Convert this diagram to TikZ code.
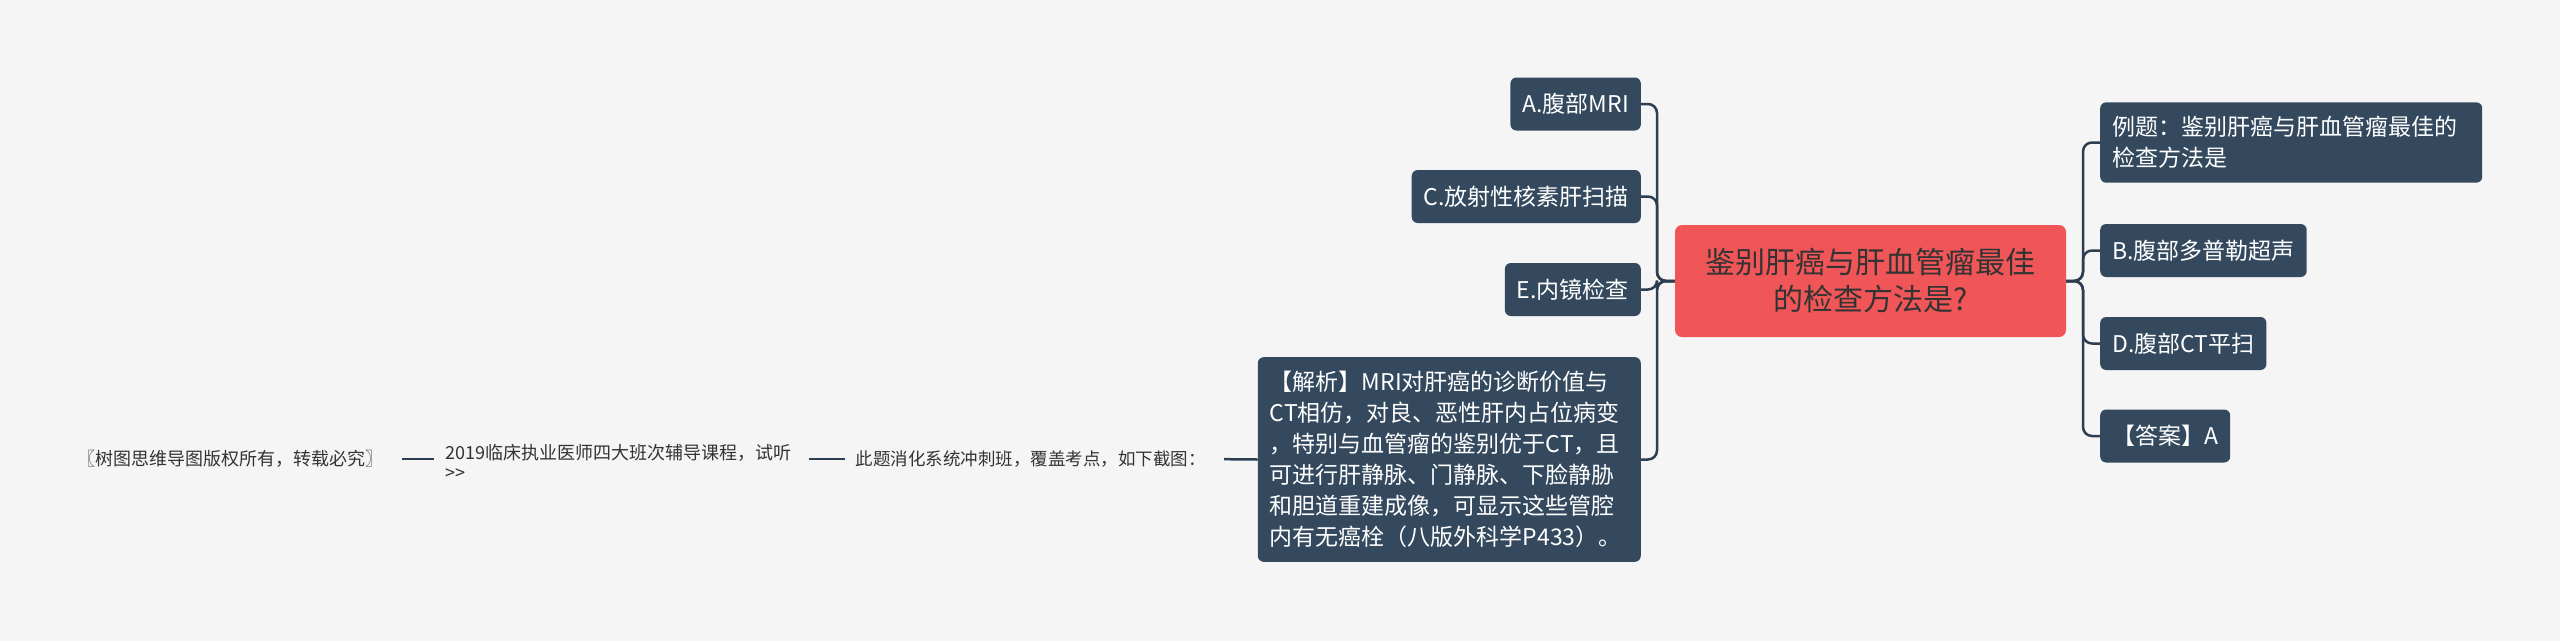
\documentclass[tikz,border=0pt]{standalone}
\usepackage{fontspec}
\setmainfont{Noto Sans CJK SC}
\usetikzlibrary{positioning}
\definecolor{bgc}{HTML}{F5F5F5}
\definecolor{boxc}{HTML}{34495E}
\definecolor{linec}{HTML}{2C3E50}
\definecolor{rootc}{HTML}{F05557}
\definecolor{txtc}{HTML}{333333}
\tikzset{
  topic/.style={fill=rootc, rounded corners=7pt, text=txtc, font=\fontsize{30}{37}\selectfont,
    minimum width=391pt, minimum height=112pt, align=center},
  sub/.style={fill=boxc, rounded corners=6pt, text=white, font=\fontsize{23}{31}\selectfont,
    inner xsep=12pt, inner ysep=14pt, minimum height=53pt, align=left},
  plain/.style={text=txtc, font=\fontsize{18}{20}\selectfont, inner xsep=0pt, align=left},
  link/.style={draw=linec, line width=2.5pt, rounded corners=9pt},
  chain/.style={draw=linec, line width=2.5pt, shorten <=18pt, shorten >=11pt},
}
\begin{document}
\begin{tikzpicture}[x=1pt,y=-1pt]
\fill[bgc] (0,0) rectangle (2560,641);
\useasboundingbox (0,0) rectangle (2560,641);

% centre topic
\node[topic] (root) at (1870.5,281) {鉴别肝癌与肝血管瘤最佳\\的检查方法是?};

% right branch
\node[sub, anchor=west, text width=358pt] (ex) at (2100,142.5) {例题：鉴别肝癌与肝血管瘤最佳的\\检查方法是};
\node[sub, anchor=west] (optb) at (2100,250.5) {B.腹部多普勒超声};
\node[sub, anchor=west] (optd) at (2100,343.5) {D.腹部CT平扫};
\node[sub, anchor=west] (ans) at (2100,436) {【答案】A};

% left branch
\node[sub, anchor=east] (opta) at (1641,104) {A.腹部MRI};
\node[sub, anchor=east] (optc) at (1641,196.5) {C.放射性核素肝扫描};
\node[sub, anchor=east] (opte) at (1641,289.5) {E.内镜检查};
\node[sub, anchor=east, text width=359pt] (jx) at (1641,459.5) {【解析】MRI对肝癌的诊断价值与\\CT相仿，对良、恶性肝内占位病变\\，特别与血管瘤的鉴别优于CT，且\\可进行肝静脉、门静脉、下脸静胁\\和胆道重建成像，可显示这些管腔\\内有无癌栓（八版外科学P433）。};

% text chain
\node[plain, anchor=east, font=\fontsize{17.5}{20}\selectfont] (n3) at (1206,459) {此题消化系统冲刺班，覆盖考点，如下截图：};
\node[plain, anchor=west] (n2) at (445,462) {2019临床执业医师四大班次辅导课程，试听\\>{}>};
\node[plain, anchor=east] (n1) at (384,459) {〖树图思维导图版权所有，转载必究〗};

\coordinate (rt) at (2083,281);
\coordinate (lt) at (1657,281);

\foreach \k in {ex,optb,optd,ans}
  \draw[link] (root.east) -- (rt) |- (\k.west);
\foreach \k in {opta,optc,opte,jx}
  \draw[link] (root.west) -- (lt) |- (\k.east);

\draw[chain, shorten >=0pt] (n3.east) -- (jx.west);
\draw[chain] (n2.east |- n3.west) -- (n3.west);
\draw[chain] (n1.east) -- (n2.west |- n1.east);
\end{tikzpicture}
\end{document}
